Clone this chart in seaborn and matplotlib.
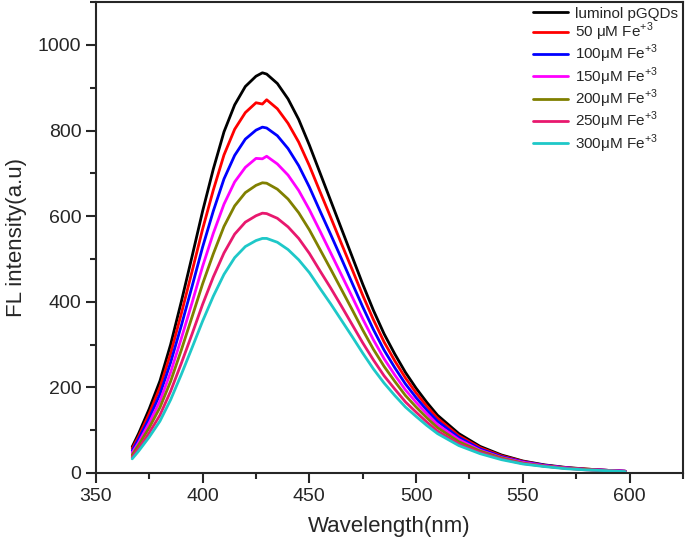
import numpy as np
import pandas as pd
import matplotlib
matplotlib.use('Agg')
import matplotlib.pyplot as plt
from matplotlib.ticker import MultipleLocator
import seaborn as sns

sns.set_style('ticks')
plt.rcParams['font.family'] = ['Liberation Sans', 'DejaVu Sans']
plt.rcParams['mathtext.fontset'] = 'custom'
plt.rcParams['mathtext.rm'] = 'Liberation Sans'

# wavelength grid (nm)
wavelength = [367, 370, 375, 380, 385, 390, 395, 400, 405, 410, 415, 420, 425, 428,
              430, 435, 440, 445, 450, 455, 460, 465, 470, 475, 480, 485, 490, 495,
              500, 505, 510, 520, 530, 540, 550, 560, 570, 580, 590, 598]

luminol = [61, 92, 150, 215, 300, 400, 505, 612, 710, 797, 860, 903, 927, 935,
           932, 910, 874, 826, 766, 701, 636, 571, 506, 441, 380, 325, 278, 235,
           198, 165, 135, 92, 62, 42, 28, 19, 13, 9, 6, 4]
fe_50 = [57, 85, 139, 200, 279, 372, 470, 570, 661, 743, 803, 842, 865, 862,
         872, 851, 817, 773, 718, 657, 597, 536, 476, 415, 358, 306, 262, 222,
         187, 156, 128, 87, 59, 40, 27, 18, 12, 9, 6, 4]
fe_100 = [52, 79, 128, 184, 258, 344, 435, 528, 612, 687, 742, 780, 801, 808,
          806, 788, 758, 718, 668, 612, 557, 501, 444, 388, 335, 287, 246, 208,
          176, 147, 121, 83, 56, 38, 26, 18, 12, 8, 6, 4]
fe_150 = [47, 71, 117, 168, 235, 314, 397, 483, 560, 628, 680, 714, 735, 734,
          740, 722, 696, 660, 615, 565, 514, 463, 412, 360, 311, 267, 229, 194,
          165, 138, 113, 78, 53, 36, 25, 17, 12, 8, 6, 4]
fe_200 = [42, 65, 106, 153, 214, 287, 364, 442, 512, 576, 624, 655, 672, 678,
          677, 663, 640, 608, 568, 522, 476, 429, 382, 334, 289, 249, 214, 181,
          154, 129, 106, 73, 51, 35, 23, 16, 11, 8, 5, 3]
fe_250 = [37, 57, 94, 135, 191, 256, 324, 394, 458, 514, 558, 586, 601, 607,
          606, 595, 575, 548, 513, 472, 432, 390, 347, 304, 264, 227, 196, 166,
          142, 119, 98, 68, 48, 33, 22, 16, 11, 7, 5, 3]
fe_300 = [33, 51, 84, 121, 171, 230, 292, 355, 413, 464, 503, 529, 543, 548,
          548, 539, 522, 498, 468, 431, 395, 357, 319, 280, 243, 210, 181, 154,
          132, 111, 92, 64, 45, 31, 21, 15, 10, 7, 5, 3]

labels = ['luminol pGQDs', '50 μM Fe$^{+3}$', '100μM Fe$^{+3}$', '150μM Fe$^{+3}$',
          '200μM Fe$^{+3}$', '250μM Fe$^{+3}$', '300μM Fe$^{+3}$']
colors = ['#000000', '#FF0000', '#0000FF', '#FF00FF', '#808000', '#E8186E', '#1EC8C8']

series = [luminol, fe_50, fe_100, fe_150, fe_200, fe_250, fe_300]
frames = []
for lab, vals in zip(labels, series):
    frames.append(pd.DataFrame({'wavelength': wavelength, 'intensity': vals, 'sample': lab}))
df = pd.concat(frames, ignore_index=True)

fig = plt.figure(figsize=(6.85, 5.43), dpi=100)
ax = fig.add_axes([0.140, 0.129, 0.857, 0.867])

sns.lineplot(data=df, x='wavelength', y='intensity', hue='sample',
             hue_order=labels, palette=colors, linewidth=2.0, ax=ax,
             estimator=None, sort=False)

ax.set_xlim(350, 625)
ax.set_ylim(0, 1100)
ax.set_xticks([350, 400, 450, 500, 550, 600])
ax.set_yticks([0, 200, 400, 600, 800, 1000])
ax.xaxis.set_minor_locator(MultipleLocator(25))
ax.yaxis.set_minor_locator(MultipleLocator(100))
ax.tick_params(which='major', direction='out', length=7, width=1.5, labelsize=14)
ax.tick_params(which='minor', direction='out', length=4, width=1.5)
for s in ax.spines.values():
    s.set_linewidth(1.5)

ax.set_xlabel('Wavelength(nm)', fontsize=16, labelpad=8)
ax.set_ylabel('FL intensity(a.u)', fontsize=16, labelpad=8)

leg = ax.legend(loc='upper right', bbox_to_anchor=(1.0, 1.0), frameon=False,
                fontsize=11, handlelength=2.3, handletextpad=0.45,
                labelspacing=0.0, borderaxespad=0.1, borderpad=0.2)
for line in leg.get_lines():
    line.set_linewidth(2.0)

fig.savefig('out.png', dpi=100)
